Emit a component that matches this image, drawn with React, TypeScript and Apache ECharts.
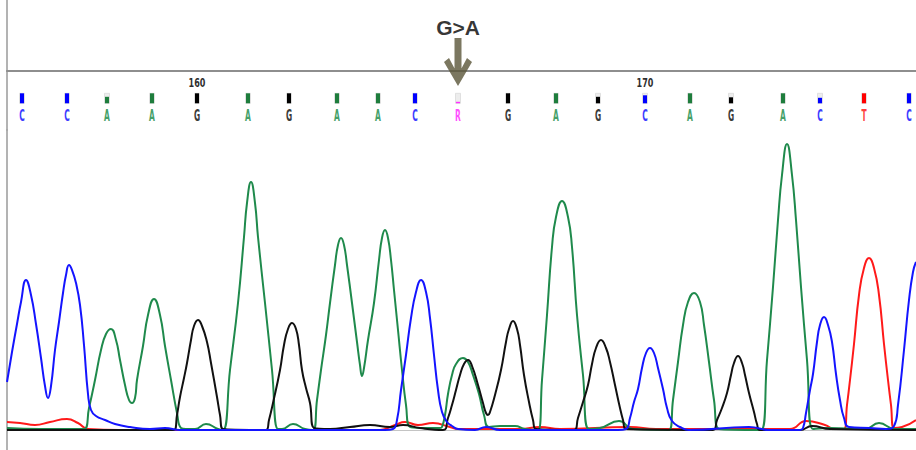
import React, { useEffect, useRef } from 'react';
import * as echarts from 'echarts';

// ---- base calls ----
const firstBase = 156;
const baseCalls = ['C', 'C', 'A', 'A', 'G', 'A', 'G', 'A', 'A', 'C', 'R', 'G', 'A', 'G', 'C', 'A', 'G', 'A', 'C', 'T', 'C'];
const basePositions = [22, 67, 107, 152, 197, 248, 289, 337, 378, 415, 458, 508, 556, 598, 645, 690, 731, 783, 820, 864, 909];
const baseQuality = [1, 1, 0.65, 1, 1, 1, 1, 1, 1, 1, 0.15, 1, 1, 0.65, 0.8, 1, 0.6, 1, 0.55, 1, 1];
const tickEvery = 10;

// ---- mutation annotation ----
const mutationBase = 166;
const mutationLabel = 'G>A';

// ---- traces: [scan position, signal] ----
const traceC = [
  [7, 48], [12, 78], [17, 106], [21, 128], [26, 150], [31, 135], [36, 106], [41, 72], [45, 44], [48, 32],
  [51, 44], [55, 80], [59, 108], [63, 137], [66, 155], [69, 165], [72, 160], [76, 147], [80, 125], [84, 85],
  [88, 36], [91, 20], [96, 14], [105, 10], [115, 6], [130, 3], [150, 1], [165, 2], [180, 0], [250, 0],
  [385, 0], [393, 1], [397, 10], [401, 40], [406, 75], [411, 112], [416, 138], [421, 150], [426, 138], [430, 112],
  [434, 75], [438, 40], [442, 18], [447, 8], [452, 4], [458, 1], [475, 0], [486, 3], [500, 0], [618, 0],
  [626, 1], [630, 12], [634, 28], [638, 41], [642, 62], [646, 77], [650, 82], [654, 77], [658, 62], [663, 41],
  [667, 22], [672, 9], [680, 3], [689, 0], [749, 3], [770, 0], [800, 0], [803, 2], [806, 17], [810, 40],
  [813, 56], [817, 88], [820, 105], [824, 113], [828, 105], [832, 88], [836, 56], [840, 30], [844, 12], [849, 3],
  [870, 2], [886, 1], [894, 4], [898, 25], [904, 80], [909, 130], [913, 158], [916, 168],
];
const traceA = [
  [7, 2], [40, 1], [84, 1], [89, 22], [95, 50], [101, 80], [106, 96], [111, 101], [116, 90], [120, 70],
  [125, 45], [129, 30], [132, 27], [135, 32], [137, 50], [143, 84], [148, 115], [154, 131], [160, 115], [165, 84],
  [171, 50], [177, 17], [181, 2], [186, 1], [195, 1], [206, 6], [218, 1], [223, 0], [230, 60], [238, 127],
  [244, 193], [247, 227], [251, 248], [255, 227], [258, 193], [265, 127], [272, 60], [278, 1], [282, 1], [293, 6],
  [305, 1], [313, 0], [317, 30], [321, 60], [326, 95], [330, 127], [335, 165], [338, 185], [341, 192], [344, 185],
  [347, 165], [352, 127], [357, 88], [360, 65], [362, 54], [364, 62], [368, 90], [374, 127], [379, 170], [382, 192],
  [385, 200], [388, 192], [391, 170], [394, 140], [398, 100], [402, 60], [406, 25], [410, 3], [420, 2], [440, 2],
  [442, 3], [445, 15], [448, 36], [452, 55], [456, 66], [463, 72], [468, 68], [473, 55], [479, 36], [484, 15],
  [489, 3], [500, 4], [515, 4], [525, 1], [538, 0], [542, 50], [547, 115], [552, 183], [556, 213], [562, 229],
  [568, 213], [572, 183], [577, 115], [583, 55], [589, 1], [600, 2], [619, 9], [633, 1], [669, 0], [673, 30],
  [678, 68], [683, 105], [688, 128], [694, 137], [700, 128], [704, 105], [709, 68], [714, 30], [719, 1], [761, 0],
  [767, 70], [773, 143], [778, 210], [782, 255], [787, 286], [792, 255], [796, 210], [801, 143], [807, 70], [813, 1],
  [830, 2], [865, 1], [879, 7], [895, 1], [916, 1],
];
const traceG = [
  [7, 0], [174, 0], [177, 15], [180, 33], [184, 52], [187, 67], [191, 90], [194, 104], [198, 110], [202, 104],
  [207, 88], [211, 67], [217, 33], [220, 15], [223, 1], [266, 0], [269, 10], [273, 27], [280, 60], [284, 85],
  [288, 101], [292, 107], [296, 101], [299, 85], [302, 60], [306, 42], [310, 27], [314, 2], [330, 1], [350, 3],
  [370, 5], [390, 3], [403, 5], [420, 2], [443, 0], [448, 12], [452, 25], [456, 40], [460, 55], [464, 66],
  [468, 70], [472, 64], [478, 45], [483, 27], [486, 17], [488, 15], [490, 18], [495, 35], [501, 60], [506, 88],
  [509, 101], [513, 109], [517, 101], [520, 85], [524, 55], [529, 28], [533, 10], [536, 1], [574, 0], [578, 12],
  [583, 28], [588, 45], [592, 66], [596, 82], [601, 90], [606, 82], [610, 68], [615, 45], [620, 22], [623, 10],
  [626, 1], [713, 0], [717, 10], [722, 22], [727, 37], [731, 55], [734, 67], [738, 74], [742, 67], [745, 55],
  [749, 37], [754, 18], [757, 6], [760, 0], [800, 0], [812, 4], [830, 1], [916, 0],
];
const traceT = [
  [7, 8], [20, 7], [35, 5], [50, 8], [67, 11], [78, 7], [88, 1], [120, 0], [380, 0], [395, 5],
  [405, 8], [418, 5], [433, 7], [450, 3], [458, 1], [520, 1], [540, 3], [560, 1], [630, 3], [656, 1],
  [790, 1], [806, 9], [825, 5], [835, 1], [844, 1], [847, 25], [850, 50], [854, 86], [859, 135], [864, 162],
  [869, 172], [874, 162], [879, 135], [884, 86], [888, 50], [891, 25], [894, 2], [902, 3], [916, 10],
];

const traceColors: Record<string, string> = { A: '#1f8a4c', C: '#1414ff', G: '#111111', T: '#ff1a1a' };
const boxColors: Record<string, string> = { A: '#1e7d3c', C: '#0000ff', G: '#000000', T: '#ff0000', R: '#ff33ff' };
const letterColors: Record<string, string> = { A: '#45a068', C: '#3c3cff', G: '#3a3a3a', T: '#ff4040', R: '#ff50ff' };

const X_MIN = 7;
const X_MAX = 916;
const BOX_BOTTOM = 32.3;
const BOX_H = 10;
const BOX_W = 4;
const LETTER_Y = 44.5;
const TICK_Y = 12;
const LABEL_Y = 27;
const ARROW_Y = 62;
const ARROW_PATH = 'path://M10.5 0 L17.5 0 L17.5 40 L10.5 40 Z M0 24 L5 20 L14 37 L23 20 L28 24 L14 48 Z';

export default function App() {
  const ref = useRef<HTMLDivElement>(null);
  useEffect(() => {
    document.body.style.margin = '0';
    const chart = echarts.init(ref.current!, null, { renderer: 'svg' });
    const mutX = basePositions[mutationBase - firstBase];

    const hiddenX = (gridIndex: number, line: any) => ({
      type: 'value', gridIndex, min: X_MIN, max: X_MAX,
      axisLabel: { show: false }, axisTick: { show: false }, splitLine: { show: false },
      axisLine: line,
    });
    const yAx = (gridIndex: number, min: number, max: number, inverse: boolean) => ({
      type: 'value', gridIndex, min, max, inverse,
      axisLabel: { show: false }, axisTick: { show: false }, splitLine: { show: false },
      axisLine: { show: true, onZero: false, lineStyle: { color: '#9a9a9a', width: 1.5 } },
    });

    const traceSeries = [
      ['T', traceT], ['A', traceA], ['G', traceG], ['C', traceC],
    ].map(([b, d]: any) => ({
      type: 'line', name: b, xAxisIndex: 2, yAxisIndex: 2, data: d,
      showSymbol: false, symbol: 'none', smooth: 0.5, silent: true,
      lineStyle: { color: traceColors[b], width: 2 },
    }));

    const renderCall = (_params: any, api: any) => {
      const x = api.value(0);
      const q = api.value(1);
      const i = api.value(2);
      const call = baseCalls[i];
      const [cx, bottom] = api.coord([x, BOX_BOTTOM]);
      const top = api.coord([x, BOX_BOTTOM - BOX_H])[1];
      const h = bottom - top;
      const ly = api.coord([x, LETTER_Y])[1];
      const children: any[] = [
        {
          type: 'rect',
          shape: { x: cx - BOX_W / 2 - 0.5, y: top, width: BOX_W + 1, height: h },
          style: { fill: '#ededed', stroke: '#d2d2d2', lineWidth: 0.6 },
        },
        {
          type: 'rect',
          shape: { x: cx - BOX_W / 2, y: bottom - h * q, width: BOX_W, height: h * q },
          style: { fill: boxColors[call] },
        },
        {
          type: 'text', x: cx, y: ly, scaleX: 0.5,
          style: {
            text: call, fill: letterColors[call], fontSize: 15, fontWeight: 'bold',
            fontFamily: "'DejaVu Sans', sans-serif",
            align: 'center', verticalAlign: 'middle', textAlign: 'center', textVerticalAlign: 'middle',
          },
        },
      ];
      const n = firstBase + i;
      if (n % tickEvery === 0) {
        const ty = api.coord([x, TICK_Y])[1];
        children.push({
          type: 'text', x: cx, y: ty, scaleX: 0.62,
          style: {
            text: String(n), fill: '#2e2e2e', fontSize: 13, fontWeight: 'bold',
            fontFamily: "'DejaVu Sans', sans-serif",
            align: 'center', verticalAlign: 'middle', textAlign: 'center', textVerticalAlign: 'middle',
          },
        });
      }
      return { type: 'group', children };
    };

    chart.setOption({
      animation: false,
      backgroundColor: '#ffffff',
      grid: [
        { left: 7, right: 0, top: 0, height: 71 },
        { left: 7, right: 0, top: 71, height: 59 },
        { left: 7, right: 0, top: 130, bottom: 0 },
      ],
      xAxis: [
        hiddenX(0, { show: true, onZero: false, lineStyle: { color: '#8e8e8e', width: 2 } }),
        hiddenX(1, { show: false }),
        hiddenX(2, { show: true, onZero: true, lineStyle: { color: '#c4c4c4', width: 1 } }),
      ],
      yAxis: [yAx(0, 0, 71, true), yAx(1, 0, 59, true), yAx(2, -20, 300, false)],
      series: [
        ...traceSeries,
        {
          type: 'custom', xAxisIndex: 1, yAxisIndex: 1, silent: true,
          encode: { x: 0 },
          data: basePositions.map((x, i) => [x, baseQuality[i], i]),
          renderItem: renderCall,
        },
        {
          type: 'scatter', xAxisIndex: 0, yAxisIndex: 0, symbol: ARROW_PATH, symbolSize: [28, 48],
          clip: false, silent: true, z: 5,
          itemStyle: { color: '#5a5538' },
          data: [[mutX, ARROW_Y]],
        },
        {
          type: 'scatter', xAxisIndex: 0, yAxisIndex: 0, symbolSize: 0, silent: true,
          label: {
            show: true, position: 'inside', formatter: '{b}', color: '#000000',
            fontFamily: "'Liberation Sans', Arial, sans-serif", fontSize: 21, fontWeight: 'bold',
          },
          data: [{ value: [mutX, LABEL_Y], name: mutationLabel }],
        },
      ],
    });
    return () => chart.dispose();
  }, []);
  return <div ref={ref} style={{ width: 916, height: 450 }} />;
}
